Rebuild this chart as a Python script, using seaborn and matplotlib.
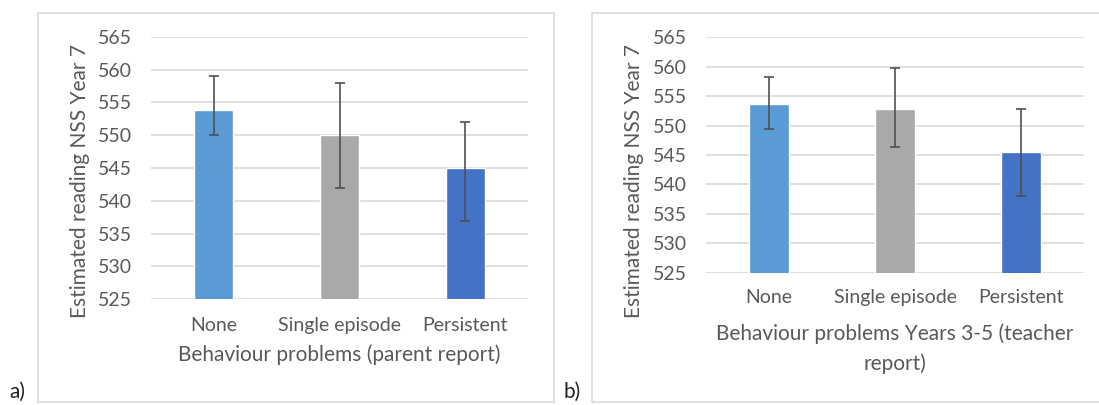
import matplotlib
matplotlib.use("Agg")
import matplotlib.pyplot as plt
import seaborn as sns
import numpy as np
from matplotlib.patches import Rectangle

# Data
categories = ["None", "Single episode", "Persistent"]
bar_colors = ["#5B9BD5", "#ABA8A8", "#4472C4"]

parent_mean = [553.8, 550.0, 545.0]
parent_low = [550.0, 542.0, 537.0]
parent_high = [559.0, 558.0, 552.0]

teacher_mean = [553.7, 552.8, 545.5]
teacher_low = [549.5, 546.3, 538.1]
teacher_high = [558.3, 559.8, 552.8]

y_ticks = [525, 530, 535, 540, 545, 550, 555, 560, 565]

sns.set_style("white")
plt.rcParams["font.family"] = ["Lato", "DejaVu Sans"]

W, H = 1099, 405
fig = plt.figure(figsize=(W / 100, H / 100), dpi=100)
text_col = "#595959"
grid_col = "#D9D9D9"


def px_axes(x0, x1, ytop, ybot):
    return fig.add_axes([x0 / W, 1 - ybot / H, (x1 - x0) / W, (ybot - ytop) / H])


def draw_panel(ax, means, lows, highs, xlabel, xtick_pad, xlab_y, ylab_x, ylab_y):
    sns.barplot(x=categories, y=means, hue=categories, palette=bar_colors, saturation=1,
                width=0.31, legend=False, ax=ax, errorbar=None, zorder=2)
    m = np.array(means)
    yerr = [m - np.array(lows), np.array(highs) - m]
    ax.errorbar(np.arange(len(categories)), m, yerr=yerr, fmt="none",
                ecolor="#505050", elinewidth=1.2, capsize=3.5, capthick=1.2, zorder=3)
    ax.set_ylim(525, 565)
    ax.set_xlim(-0.5, 2.5)
    ax.set_yticks(y_ticks)
    ax.yaxis.grid(True, color=grid_col, linewidth=1.2)
    ax.set_axisbelow(True)
    for s in ax.spines.values():
        s.set_visible(False)
    ax.tick_params(axis="y", length=0, pad=14, labelsize=14, labelcolor=text_col)
    ax.tick_params(axis="x", length=0, pad=xtick_pad, labelsize=14, labelcolor=text_col)
    ax.set_ylabel("Estimated reading NSS Year 7", fontsize=15, color=text_col)
    ax.yaxis.set_label_coords(ylab_x, ylab_y)
    ax.set_xlabel(xlabel, fontsize=15, color=text_col, linespacing=1.55)
    ax.xaxis.set_label_coords(0.5, xlab_y)


# Chart area frames
fig.add_artist(Rectangle((38 / W, 1 - 402 / H), (554 - 38) / W, (402 - 13) / H,
                         transform=fig.transFigure, fill=False, edgecolor=grid_col, lw=1.2))
fig.add_artist(Rectangle((592 / W, 1 - 402 / H), (1110 - 592) / W, (402 - 13) / H,
                         transform=fig.transFigure, fill=False, edgecolor=grid_col, lw=1.2))

ax1 = px_axes(151, 528, 36.7, 299.3)
draw_panel(ax1, parent_mean, parent_low, parent_high,
           "Behaviour problems (parent report)", 13, -0.17, -0.162, 0.45)

ax2 = px_axes(706, 1084, 37.3, 272.7)
draw_panel(ax2, teacher_mean, teacher_low, teacher_high,
           "Behaviour problems Years 3-5 (teacher\nreport)", 12, -0.215, -0.164, 0.39)

fig.text(17 / W, 1 - 392 / H, "a)", fontsize=15, color="#222222", ha="center", va="center")
fig.text(572 / W, 1 - 392 / H, "b)", fontsize=15, color="#222222", ha="center", va="center")

fig.savefig("out.png", dpi=100, facecolor="white")
